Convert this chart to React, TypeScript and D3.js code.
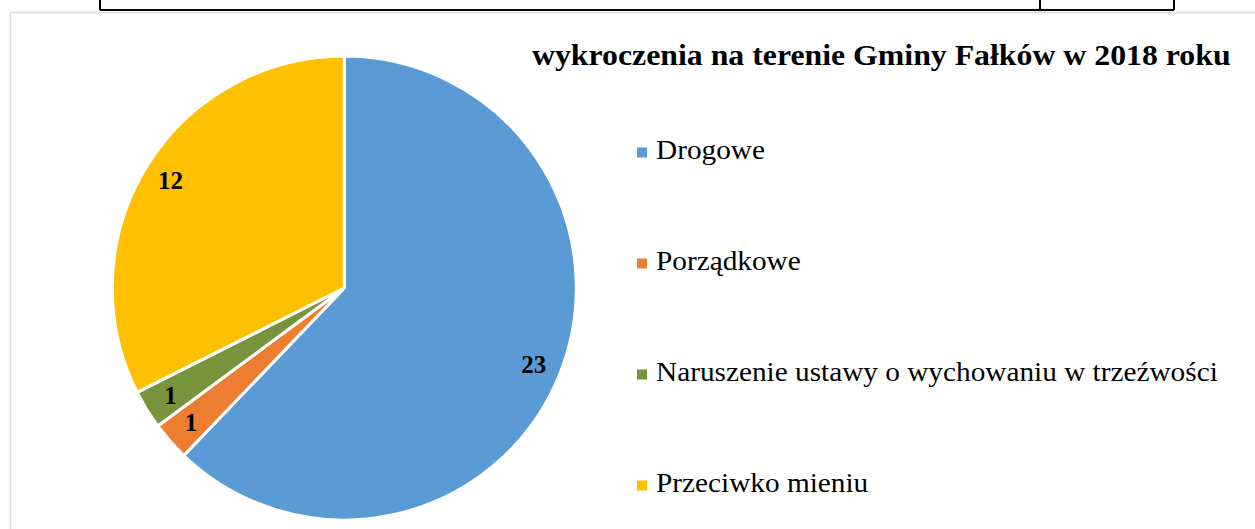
import React from "react";
import * as d3 from "d3";

const title = "wykroczenia na terenie Gminy Fałków w 2018 roku";
const categories = ["Drogowe", "Porządkowe", "Naruszenie ustawy o wychowaniu w trzeźwości", "Przeciwko mieniu"];
const values = [23, 1, 1, 12];
const colors = ["#5B9BD5", "#ED7D31", "#77933C", "#FFC000"];

const W = 1255;
const H = 529;
const cx = 344.3;
const cy = 288;
const R = 232;

export default function App() {
  const pie = d3.pie<number>().sort(null).value((d) => d)(values);
  const arc = d3.arc<d3.PieArcDatum<number>>().innerRadius(0).outerRadius(R);
  const labelArc = d3.arc<d3.PieArcDatum<number>>().innerRadius(R * 0.88).outerRadius(R * 0.88);
  const legendY = d3.scaleBand<number>().domain(d3.range(categories.length)).range([103, 547]);
  const font = "'Liberation Serif', 'Times New Roman', serif";

  return (
    <svg width={W} height={H} style={{ position: "fixed", left: 0, top: 0, background: "#fff" }}>
      {/* table remnant at top */}
      <g stroke="#000" strokeWidth={2} fill="none">
        <line x1={100} y1={10} x2={1174} y2={10} />
        <line x1={100} y1={0} x2={100} y2={10} />
        <line x1={1040} y1={0} x2={1040} y2={10} />
        <line x1={1174} y1={0} x2={1174} y2={10} />
      </g>
      {/* chart area border */}
      <rect x={10.5} y={12.5} width={W + 20} height={H + 20} fill="none" stroke="#D9D9D9" strokeWidth={1.5} />

      <text
        transform={`translate(532,65) scale(1.06,1)`}
        fontFamily={font}
        fontWeight="bold"
        fontSize={30}
        fill="#000"
      >
        {title}
      </text>

      <g transform={`translate(${cx},${cy})`}>
        {pie.map((p, i) => (
          <path key={i} d={arc(p) || ""} fill={colors[i]} stroke="#fff" strokeWidth={3} strokeLinejoin="round" />
        ))}
        {pie.map((p, i) => {
          const [x, y] = labelArc.centroid(p);
          return (
            <text
              key={"l" + i}
              x={x}
              y={y}
              textAnchor="middle"
              dominantBaseline="central"
              fontFamily={font}
              fontWeight="bold"
              fontSize={25}
              fill="#000"
            >
              {values[i]}
            </text>
          );
        })}
      </g>

      {categories.map((c, i) => {
        const y = (legendY(i) as number) + legendY.bandwidth() / 2;
        return (
          <g key={"lg" + i}>
            <rect x={637} y={y - 11} width={10} height={10} fill={colors[i]} />
            <text
              transform={`translate(656,${y}) scale(1.046,1)`}
              fontFamily={font}
              fontSize={28}
              fill="#000"
            >
              {c}
            </text>
          </g>
        );
      })}
    </svg>
  );
}
